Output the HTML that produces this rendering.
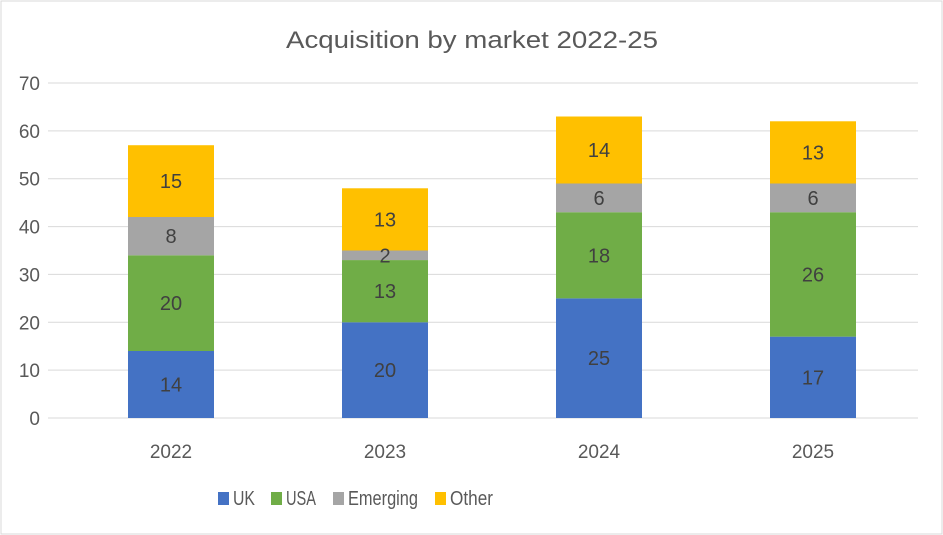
<!DOCTYPE html>
<html><head><meta charset="utf-8"><style>
html,body{margin:0;padding:0;background:#fff;}
svg{display:block;font-family:"Liberation Sans",sans-serif;}
</style></head><body>
<svg id="chart" width="943" height="535" viewBox="0 0 943 535">
<rect x="1" y="1" width="941" height="533" fill="#fff" stroke="#d9d9d9" stroke-width="1"/>
<text x="472" y="48" text-anchor="middle" font-size="24" fill="#595959" textLength="372" lengthAdjust="spacingAndGlyphs">Acquisition by market 2022-25</text>
<g id="grid"></g><g id="bars"></g><g id="labels"></g><g id="legend"></g>
</svg>
<script>
const categories=["2022","2023","2024","2025"];
const seriesNames=["UK","USA","Emerging","Other"];
const ukValues=[14,20,25,17];
const usaValues=[20,13,18,26];
const emergingValues=[8,2,6,6];
const otherValues=[15,13,14,13];
const yTicks=[0,10,20,30,40,50,60,70];
const colors=["#4472C4","#70AD47","#A5A5A5","#FFC000"];
const NS="http://www.w3.org/2000/svg";
const plotL=48,plotR=918,y0=418,y70=83,yMax=70;
function yScale(v){return y0-(v/yMax)*(y0-y70);}
const band=214,firstCenter=171;
function xCenter(i){return firstCenter+band*i;}
const barW=86;
function mk(tag,attrs,parent){const e=document.createElementNS(NS,tag);for(const k in attrs)e.setAttribute(k,attrs[k]);parent.appendChild(e);return e;}
const grid=document.getElementById('grid');
yTicks.forEach(t=>{
  const y=yScale(t);
  const l=mk('line',{x1:plotL,x2:plotR,y1:y,y2:y,stroke:'#d9d9d9','stroke-width':1},grid);
  
  
  const tx=mk('text',{x:40,y:y+7,'text-anchor':'end','font-size':19,fill:'#595959'},grid);
  tx.textContent=t;
  
  
});
const series=[ukValues,usaValues,emergingValues,otherValues];
const bars=document.getElementById('bars'),labels=document.getElementById('labels');
categories.forEach((c,i)=>{
  let cum=0;
  series.forEach((vals,s)=>{
    const v=vals[i];
    const yTop=yScale(cum+v),yBot=yScale(cum);
    const r=mk('rect',{x:xCenter(i)-barW/2,y:yTop,width:barW,height:yBot-yTop,fill:colors[s]},bars);
    
    
    const t=mk('text',{x:xCenter(i),y:(yTop+yBot)/2+7,'text-anchor':'middle','font-size':20,fill:'#404040'},labels);
    t.textContent=v;
    
    
    cum+=v;
  });
  const xl=mk('text',{x:xCenter(i),y:458,'text-anchor':'middle','font-size':19,fill:'#595959'},labels);
  xl.textContent=c;
  
  
});
const legend=document.getElementById('legend');
const legX=[218,271,333,435];
const legW=[22,30,70,43];
seriesNames.forEach((n,s)=>{
  const g=mk('g',{},legend);
  
  
  mk('rect',{x:legX[s],y:492,width:11,height:13,fill:colors[s]},g);
  const t=mk('text',{x:legX[s]+15,y:505,'font-size':20,fill:'#595959',textLength:legW[s],lengthAdjust:'spacingAndGlyphs'},g);
  t.textContent=n;
});
</script>
</body></html>
